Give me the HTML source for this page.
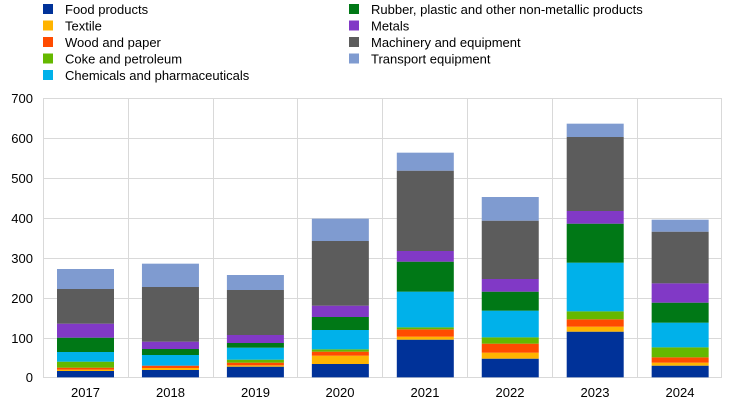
<!DOCTYPE html>
<html><head><meta charset="utf-8"><style>
html,body{margin:0;padding:0;background:#fff;}
svg{display:block;font-family:"Liberation Sans",Arial,sans-serif;}
</style></head><body>
<svg id="s" width="739" height="403" viewBox="0 0 739 403" xmlns="http://www.w3.org/2000/svg">
<g fill="#000" font-size="13">
<rect x="43" y="4" width="10" height="10" fill="#003299"/><text x="65" y="14">Food products</text>
<rect x="43" y="20.5" width="10" height="10" fill="#ffb400"/><text x="65" y="30.5">Textile</text>
<rect x="43" y="37" width="10" height="10" fill="#ff4b00"/><text x="65" y="47">Wood and paper</text>
<rect x="43" y="53.5" width="10" height="10" fill="#65b800"/><text x="65" y="63.5">Coke and petroleum</text>
<rect x="43" y="70" width="10" height="10" fill="#00b1ea"/><text x="65" y="80">Chemicals and pharmaceuticals</text>
<rect x="349" y="4" width="10" height="10" fill="#007816"/><text x="371" y="14">Rubber, plastic and other non-metallic products</text>
<rect x="349" y="20.5" width="10" height="10" fill="#8139c6"/><text x="371" y="30.5">Metals</text>
<rect x="349" y="37" width="10" height="10" fill="#5c5c5c"/><text x="371" y="47">Machinery and equipment</text>
<rect x="349" y="53.5" width="10" height="10" fill="#7f9bd0"/><text x="371" y="63.5">Transport equipment</text>
</g>
<g stroke="#d9d9d9" stroke-width="1">
<line x1="43" y1="98.5" x2="722" y2="98.5"/>
<line x1="43" y1="138.5" x2="722" y2="138.5"/>
<line x1="43" y1="178.5" x2="722" y2="178.5"/>
<line x1="43" y1="218.5" x2="722" y2="218.5"/>
<line x1="43" y1="258.5" x2="722" y2="258.5"/>
<line x1="43" y1="298.5" x2="722" y2="298.5"/>
<line x1="43" y1="338.5" x2="722" y2="338.5"/>
<line x1="43" y1="377.5" x2="722" y2="377.5"/>
<line x1="43.5" y1="98" x2="43.5" y2="378"/>
<line x1="128.5" y1="98" x2="128.5" y2="378"/>
<line x1="213.5" y1="98" x2="213.5" y2="378"/>
<line x1="297.5" y1="98" x2="297.5" y2="378"/>
<line x1="382.5" y1="98" x2="382.5" y2="378"/>
<line x1="467.5" y1="98" x2="467.5" y2="378"/>
<line x1="552.5" y1="98" x2="552.5" y2="378"/>
<line x1="637.5" y1="98" x2="637.5" y2="378"/>
<line x1="721.5" y1="98" x2="721.5" y2="378"/>
</g>
<g font-size="13" fill="#000" text-anchor="end">
<text x="33" y="103">700</text><text x="33" y="143">600</text><text x="33" y="183">500</text>
<text x="33" y="223">400</text><text x="33" y="263">300</text><text x="33" y="303">200</text>
<text x="33" y="343">100</text><text x="33" y="382">0</text>
</g>
<g font-size="13" fill="#000" text-anchor="middle">
<text x="85.5" y="397">2017</text><text x="170.5" y="397">2018</text><text x="255.5" y="397">2019</text>
<text x="340" y="397">2020</text><text x="425" y="397">2021</text><text x="510" y="397">2022</text>
<text x="595" y="397">2023</text><text x="680" y="397">2024</text>
</g>
<g id="bars"></g>
</svg>
<script>
var cols=["#003299","#ffb400","#ff4b00","#65b800","#00b1ea","#007816","#8139c6","#5c5c5c","#7f9bd0"];
var d=[
[843,839,833,815,786,743,701,597,537],
[840,834,827,827,795,777,755,591,521],
[830,826,818,809,773,759,735,600,555],
[822,797,785,778,720,681,647,453,386],
[749,740,718,712,605,515,483,242,188],
[806,788,761,742,662,605,567,392,321],
[725,710,688,664,518,401,363,141,101],
[827,818,802,772,698,638,580,425,389]];
var g=document.getElementById("bars"),ns="http://www.w3.org/2000/svg",h="";
for(var i=0;i<8;i++){var cx=85.5+i*84.95,prev=862;
for(var j=0;j<9;j++){var t=d[i][j];if(t<prev){var y1=90+t/3,y2=90+prev/3;
h+='<rect x="'+(cx-28.5).toFixed(2)+'" y="'+y1.toFixed(2)+'" width="57" height="'+(y2-y1).toFixed(2)+'" fill="'+cols[j]+'"/>';}
prev=t;}}
g.innerHTML=h;
</script>
</body></html>
